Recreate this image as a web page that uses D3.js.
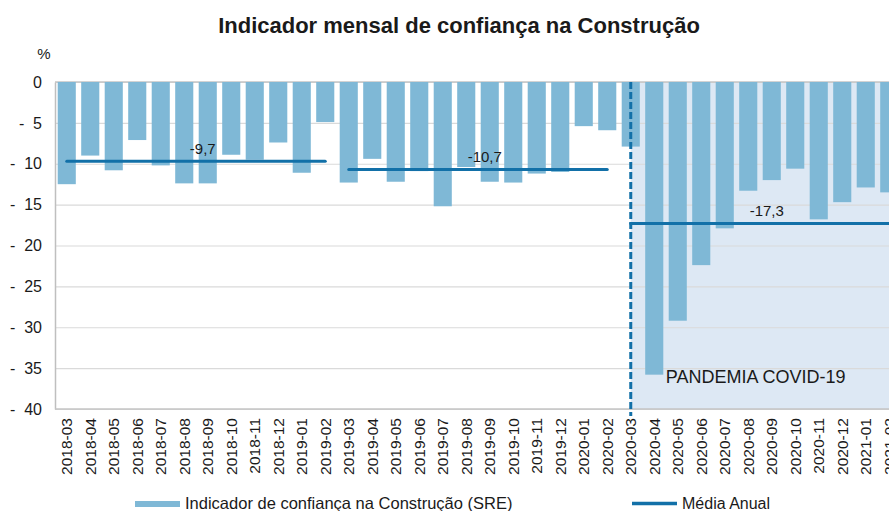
<!DOCTYPE html>
<html>
<head>
<meta charset="utf-8">
<script src="https://cdn.jsdelivr.net/npm/d3@7"></script>
<style>
body { margin: 0; background: #fff; }
text { font-family: "Liberation Sans", Arial, sans-serif; fill: #1a1a1a; }
</style>
</head>
<body>
<svg id="chart" width="889" height="511"></svg>
<script>
// monthly values (%)
var months = ['2018-03','2018-04','2018-05','2018-06','2018-07','2018-08','2018-09','2018-10','2018-11','2018-12',
	'2019-01','2019-02','2019-03','2019-04','2019-05','2019-06','2019-07','2019-08','2019-09','2019-10','2019-11','2019-12',
	'2020-01','2020-02','2020-03','2020-04','2020-05','2020-06','2020-07','2020-08','2020-09','2020-10','2020-11','2020-12',
	'2021-01','2021-02'];
var values = [-12.5,-9.0,-10.8,-7.1,-10.2,-12.4,-12.4,-8.9,-9.5,-7.4,
	-11.1,-4.9,-12.3,-9.4,-12.2,-10.9,-15.2,-10.4,-12.2,-12.3,-11.2,-11.0,
	-5.4,-5.9,-7.9,-35.8,-29.2,-22.4,-17.9,-13.3,-12.0,-10.6,-16.8,-14.7,
	-12.9,-13.5];

// annual averages
var periodStart = ['2018-03','2019-03','2020-03'];
var periodEnd = ['2019-02','2020-02','2021-02'];
var periodAvg = [-9.7,-10.7,-17.3];
var periodLabel = ['-9,7','-10,7','-17,3'];

var yTicks = [0,-5,-10,-15,-20,-25,-30,-35,-40];
var pandemicStart = '2020-03';
var pandemicLabel = 'PANDEMIA COVID-19';
var legendLabels = ['Indicador de confiança na Construção (SRE)','Média Anual'];

var barColor = '#7fb8d6', lineColor = '#1270a8', shadeColor = '#dde8f4';

var svg = d3.select('#chart');
var plotLeft = 55, plotTop = 82, plotBottom = 409, step = 23.5;

var x = d3.scaleBand()
	.domain(months)
	.range([plotLeft, plotLeft + months.length*step])
	.paddingInner(0.23)
	.paddingOuter(0.115);
var y = d3.scaleLinear().domain([0,-40]).range([plotTop, plotBottom]);
var xc = function(m) { return x(m) + x.bandwidth()/2; };

// title
svg.append('text')
	.attr('x', 459).attr('y', 33)
	.attr('text-anchor','middle')
	.style('font-size','22px')
	.style('font-weight','bold')
	.text('Indicador mensal de confiança na Construção');

svg.append('text')
	.attr('x', 44).attr('y', 59)
	.attr('text-anchor','middle')
	.style('font-size','15px')
	.text('%');

// pandemic shading
var px = xc(pandemicStart);
svg.append('rect')
	.attr('x', px).attr('y', y(0))
	.attr('width', 889 - px).attr('height', y(-40) - y(0))
	.attr('fill', shadeColor);

// grid
svg.append('g')
	.attr('transform','translate('+plotLeft+',0)')
	.call(d3.axisLeft(y).tickValues(yTicks).tickSize(-(900-plotLeft)).tickFormat(''))
	.call(g => g.select('.domain').remove())
	.call(g => g.selectAll('line').attr('stroke','#dadada').attr('stroke-width',1.2));

// y axis
var yAxis = svg.append('g')
	.attr('transform','translate('+plotLeft+',0)')
	.call(d3.axisLeft(y).tickValues(yTicks).tickSize(0).tickPadding(13)
		.tickFormat(d => d === 0 ? '0' : '-  ' + Math.abs(d)));
yAxis.select('.domain').attr('stroke','#bfbfbf').attr('stroke-width',1.5);
yAxis.selectAll('text')
	.style('font-size','16px')
	.style('white-space','pre')
	.attr('fill','#1a1a1a');

// top + bottom lines
svg.append('line').attr('x1',plotLeft).attr('x2',900).attr('y1',y(0)).attr('y2',y(0))
	.attr('stroke','#c4c4c4').attr('stroke-width',1.5);
svg.append('line').attr('x1',plotLeft).attr('x2',900).attr('y1',y(-40)).attr('y2',y(-40))
	.attr('stroke','#c4c4c4').attr('stroke-width',1.5);

// bars
svg.append('g')
	.selectAll('rect')
	.data(months)
	.join('rect')
	.attr('x', d => x(d))
	.attr('y', y(0))
	.attr('width', x.bandwidth())
	.attr('height', (d,i) => y(values[i]) - y(0))
	.attr('fill', barColor);

// x axis labels
var xAxis = svg.append('g')
	.attr('transform','translate(0,'+(plotBottom+9)+')')
	.call(d3.axisBottom(x).tickSize(0));
xAxis.select('.domain').remove();
xAxis.selectAll('text')
	.attr('transform','rotate(-90)')
	.attr('text-anchor','end')
	.attr('x', 0).attr('y', 0).attr('dy','0.36em')
	.style('font-size','15.5px')
	.attr('fill','#1a1a1a');

// annual average lines
periodAvg.forEach(function(v, i) {
	svg.append('line')
		.attr('x1', xc(periodStart[i])).attr('x2', xc(periodEnd[i]))
		.attr('y1', y(v)).attr('y2', y(v))
		.attr('stroke', lineColor).attr('stroke-width', 3)
		.attr('stroke-linecap','round');
	var mid = months.indexOf(periodStart[i]) + 6;
	svg.append('text')
		.attr('x', xc(months[mid]) - 5)
		.attr('y', y(v) - 7)
		.attr('text-anchor','middle')
		.style('font-size','15px')
		.text(periodLabel[i]);
});

// pandemic marker
svg.append('line')
	.attr('x1', px).attr('x2', px)
	.attr('y1', y(0)).attr('y2', y(-40) + 7)
	.attr('stroke', lineColor).attr('stroke-width', 3)
	.attr('stroke-dasharray','7,3');
svg.append('text')
	.attr('x', px + 35).attr('y', 383)
	.style('font-size','18px')
	.text(pandemicLabel);

// legend
svg.append('rect').attr('x',135).attr('y',501).attr('width',45).attr('height',6).attr('fill',barColor);
svg.append('text').attr('x',185).attr('y',509).style('font-size','16.5px').text(legendLabels[0]);
svg.append('line').attr('x1',632).attr('x2',677).attr('y1',503.5).attr('y2',503.5)
	.attr('stroke',lineColor).attr('stroke-width',3.5);
svg.append('text').attr('x',682).attr('y',509).style('font-size','16px').text(legendLabels[1]);
</script>
</body>
</html>
